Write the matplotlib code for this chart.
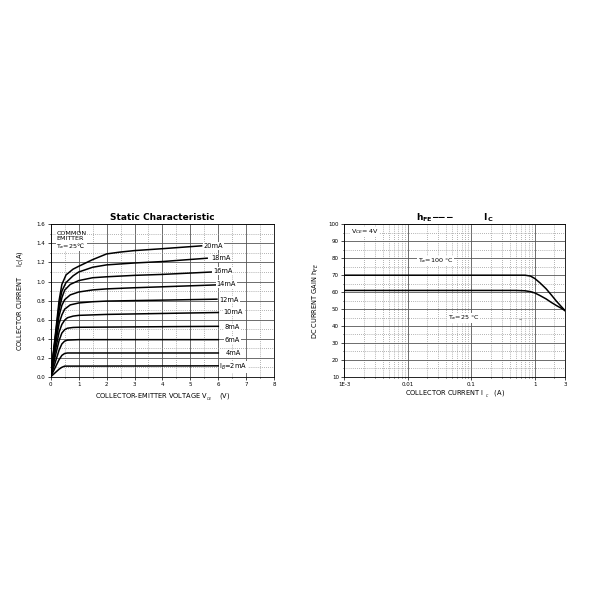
import numpy as np
import matplotlib
matplotlib.use("Agg")
import matplotlib.pyplot as plt
from matplotlib.ticker import MultipleLocator, FixedLocator, NullFormatter, FixedFormatter, FormatStrFormatter

# ---- static characteristic data (Ic vs Vce for each Ib) ----
ib_labels = ["20mA", "18mA", "16mA", "14mA", "12mA", "10mA", "8mA", "6mA", "4mA", r"I$_B$=2mA"]
vce_20 = [0, 0.15, 0.3, 0.4, 0.55, 0.8, 1.0, 1.5, 2.0, 2.5, 3.0, 4.0, 5.4]
ic_20 = [0, 0.4, 0.8, 0.97, 1.07, 1.13, 1.16, 1.23, 1.29, 1.31, 1.325, 1.345, 1.375]
vce_18 = [0, 0.15, 0.3, 0.4, 0.55, 0.8, 1.0, 1.5, 2.0, 3.0, 4.0, 5.6]
ic_18 = [0, 0.38, 0.75, 0.9, 0.99, 1.06, 1.1, 1.15, 1.175, 1.195, 1.21, 1.245]
vce_16 = [0, 0.15, 0.3, 0.4, 0.5, 0.7, 1.0, 1.5, 2.0, 3.0, 4.0, 5.75]
ic_16 = [0, 0.36, 0.7, 0.83, 0.91, 0.97, 1.01, 1.04, 1.05, 1.065, 1.075, 1.10]
vce_14 = [0, 0.15, 0.3, 0.4, 0.5, 0.7, 1.0, 1.5, 2.0, 3.0, 4.0, 5.95]
ic_14 = [0, 0.34, 0.64, 0.75, 0.81, 0.86, 0.89, 0.912, 0.923, 0.935, 0.945, 0.965]
vce_12 = [0, 0.15, 0.3, 0.4, 0.5, 0.7, 1.0, 1.5, 2.0, 3.0, 4.0, 5.95]
ic_12 = [0, 0.3, 0.56, 0.65, 0.71, 0.755, 0.775, 0.788, 0.795, 0.80, 0.805, 0.815]
vce_10 = [0, 0.15, 0.3, 0.4, 0.5, 0.6, 0.8, 1.0, 2.0, 4.0, 6.0]
ic_10 = [0, 0.25, 0.47, 0.55, 0.595, 0.62, 0.637, 0.645, 0.655, 0.665, 0.675]
vce_8 = [0, 0.15, 0.3, 0.4, 0.5, 0.6, 0.8, 1.0, 6.0]
ic_8 = [0, 0.2, 0.38, 0.46, 0.495, 0.51, 0.518, 0.52, 0.53]
vce_6 = [0, 0.15, 0.3, 0.4, 0.5, 0.6, 1.0, 6.0]
ic_6 = [0, 0.14, 0.28, 0.345, 0.375, 0.385, 0.39, 0.39]
vce_4 = [0, 0.15, 0.3, 0.4, 0.5, 0.6, 6.0]
ic_4 = [0, 0.09, 0.18, 0.225, 0.245, 0.25, 0.25]
vce_2 = [0, 0.15, 0.3, 0.4, 0.5, 6.0]
ic_2 = [0, 0.04, 0.08, 0.1, 0.112, 0.115]

# label anchor positions (V, A)
label_v = [5.83, 6.09, 6.16, 6.28, 6.39, 6.54, 6.5, 6.5, 6.54, 6.54]
label_i = [1.375, 1.243, 1.113, 0.976, 0.81, 0.68, 0.518, 0.382, 0.245, 0.10]

# ---- hFE vs Ic data ----
ic_100 = [0.001, 0.01, 0.1, 0.5, 0.7, 0.85, 1.0, 1.2, 1.5, 1.8, 2.2, 2.6, 3.0]
hfe_100 = [70, 70, 70, 70, 70, 69.5, 68, 65.5, 62, 58.5, 54.5, 51.5, 49]
ic_25 = [0.001, 0.01, 0.1, 0.5, 0.7, 0.85, 1.0, 1.2, 1.5, 1.8, 2.2, 2.6, 3.0]
hfe_25 = [61, 61, 61, 61, 60.8, 60.3, 59.5, 58, 56, 54, 52, 50.5, 49]

major_c = "#555555"
minor_c = "#999999"
white_box = dict(facecolor="white", edgecolor="none", pad=0.6)

fig = plt.figure(figsize=(6, 6), dpi=100)

# ================= left chart =================
ax1 = fig.add_axes([0.0845, 0.372, 0.3725, 0.254])
curves = [(vce_20, ic_20), (vce_18, ic_18), (vce_16, ic_16), (vce_14, ic_14),
          (vce_12, ic_12), (vce_10, ic_10), (vce_8, ic_8), (vce_6, ic_6),
          (vce_4, ic_4), (vce_2, ic_2)]
for (v, i) in curves:
    ax1.plot(v, i, color="black", lw=1.1, zorder=3)
for lab, lv, li in zip(ib_labels, label_v, label_i):
    ax1.text(lv, li, lab, fontsize=4.8, ha="center", va="center", zorder=4, bbox=white_box)

ax1.set_xlim(0, 8)
ax1.set_ylim(0, 1.6)
ax1.xaxis.set_major_locator(MultipleLocator(1))
ax1.xaxis.set_minor_locator(MultipleLocator(0.5))
ax1.yaxis.set_major_locator(MultipleLocator(0.2))
ax1.yaxis.set_minor_locator(MultipleLocator(0.1))
ax1.yaxis.set_major_formatter(FormatStrFormatter("%.1f"))
ax1.grid(which="major", color=major_c, lw=0.6, ls="-")
ax1.grid(which="minor", color=minor_c, lw=0.6, ls=(0, (1, 1.5)))
ax1.tick_params(which="both", labelsize=4, length=2, width=0.5, pad=2)
ax1.tick_params(which="minor", length=1)
for s in ax1.spines.values():
    s.set_linewidth(0.6)
ax1.set_title("Static Characteristic", fontsize=6.5, fontweight="bold", pad=3)
ax1.set_xlabel(r"COLLECTOR-EMITTER VOLTAGE V$_{_{CE}}$    (V)", fontsize=4.8, labelpad=3)
ax1.set_ylabel(r"COLLECTOR CURRENT     I$_C$(A)", fontsize=4.8, labelpad=8)
ax1.text(0.2, 1.53, "COMMON\nEMITTER\n" + r"T$_a$=25℃", fontsize=4.6, ha="left", va="top",
         linespacing=1.0, zorder=4, bbox=dict(facecolor="white", edgecolor="none", pad=0.3))

# ================= right chart =================
ax2 = fig.add_axes([0.574, 0.372, 0.368, 0.254])
ax2.plot(ic_100, hfe_100, color="black", lw=1.1, zorder=3)
ax2.plot(ic_25, hfe_25, color="black", lw=1.1, zorder=3)
ax2.set_xscale("log")
ax2.set_xlim(0.001, 3)
ax2.set_ylim(10, 100)
ax2.xaxis.set_major_locator(FixedLocator([0.001, 0.01, 0.1, 1, 3]))
ax2.xaxis.set_major_formatter(FixedFormatter(["1E-3", "0.01", "0.1", "1", "3"]))
minor_x = [m * 10.0 ** e for e in (-3, -2, -1, 0) for m in range(2, 10) if m * 10.0 ** e < 3]
ax2.xaxis.set_minor_locator(FixedLocator(minor_x))
ax2.xaxis.set_minor_formatter(NullFormatter())
ax2.yaxis.set_major_locator(MultipleLocator(10))
ax2.yaxis.set_minor_locator(MultipleLocator(5))
ax2.grid(which="major", color=major_c, lw=0.6, ls="-")
ax2.grid(which="minor", color=minor_c, lw=0.6, ls=(0, (1, 1.5)))
ax2.tick_params(which="both", labelsize=4, length=2, width=0.5, pad=2)
ax2.tick_params(which="minor", length=1)
for s in ax2.spines.values():
    s.set_linewidth(0.6)
ax2.set_title(r"$\mathbf{h_{FE}}$$\mathbf{-\!\!-\!\!-}$          $\mathbf{I_C}$", fontsize=6.5, pad=3)
ax2.set_xlabel(r"COLLECTOR CURRENT I $_{_C}$   (A)", fontsize=4.8, labelpad=1)
ax2.set_ylabel(r"DC CURRENT GAIN h$_{FE}$", fontsize=4.8, labelpad=5)
ax2.text(0.00125, 95.5, r"V$_{CE}$= 4V", fontsize=4.6, ha="left", va="center", zorder=4,
         bbox=dict(facecolor="white", edgecolor="none", pad=0.3))
ax2.text(0.0275, 78.5, r"T$_a$=100 °C", fontsize=4.6, ha="center", va="center", zorder=4, bbox=white_box)
ax2.text(0.076, 44.8, r"T$_a$=25 °C", fontsize=4.6, ha="center", va="center", zorder=4, bbox=white_box)
ax2.text(0.59, 43.7, "–", fontsize=4.6, ha="center", va="center", zorder=4)

fig.savefig("out.png", dpi=100, facecolor="white")
